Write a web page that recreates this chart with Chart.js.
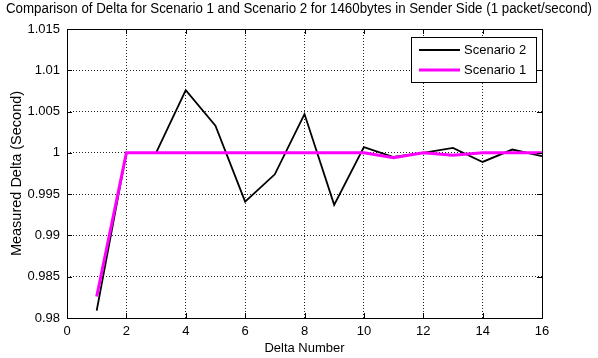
<!DOCTYPE html>
<html>
<head>
<meta charset="utf-8">
<script src="https://cdn.jsdelivr.net/npm/chart.js@4.4.1/dist/chart.umd.min.js"></script>
<style>
  html, body { margin: 0; padding: 0; background: #fff; }
  #wrap { width: 598px; height: 358px; }
</style>
</head>
<body>
<div id="wrap"><canvas id="myChart" width="598" height="358"></canvas></div>
<script>
// values
const deltaNumbers = [1, 2, 3, 4, 5, 6, 7, 8, 9, 10, 11, 12, 13, 14, 15, 16];
const scenario2 = [0.9809, 1.0, 1.0, 1.0076, 1.0033, 0.9941, 0.9974, 1.0047, 0.9937, 1.0007, 0.9995, 1.0, 1.0006, 0.9989, 1.0004, 0.9996];
const scenario1 = [0.9826, 1.0, 1.0, 1.0, 1.0, 1.0, 1.0, 1.0, 1.0, 1.0, 0.9994, 1.0, 0.9997, 1.0, 1.0, 1.0];
const xTicks = [0, 2, 4, 6, 8, 10, 12, 14, 16];
const yTicks = [0.98, 0.985, 0.99, 0.995, 1, 1.005, 1.01, 1.015];
const titleText = 'Comparison of Delta for Scenario 1 and Scenario 2 for 1460bytes in Sender Side (1 packet/second)';

const font = "'Liberation Sans', Arial, sans-serif";

function toPoints(vals) {
    return deltaNumbers.map((x, i) => ({ x: x, y: vals[i] }));
}

// title, box round the plot, inward tick marks and legend, matlab style
const framePlugin = {
    id: 'frame',
    afterDraw(chart) {
        const ctx = chart.ctx;
        const a = chart.chartArea;
        const xs = chart.scales.x, ys = chart.scales.y;
        ctx.save();

        // title spans nearly the whole figure width, so it is drawn here
        ctx.fillStyle = '#000';
        ctx.font = '14px ' + font;
        ctx.textAlign = 'center';
        ctx.textBaseline = 'middle';
        ctx.fillText(titleText, 299, 9, 586);

        ctx.strokeStyle = '#000';
        ctx.lineWidth = 1;
        ctx.setLineDash([]);
        ctx.strokeRect(Math.round(a.left) + 0.5, Math.round(a.top) + 0.5, Math.round(a.right - a.left), Math.round(a.bottom - a.top));
        ctx.beginPath();
        xTicks.forEach(v => {
            const px = Math.round(xs.getPixelForValue(v)) + 0.5;
            ctx.moveTo(px, a.bottom); ctx.lineTo(px, a.bottom - 5);
            ctx.moveTo(px, a.top); ctx.lineTo(px, a.top + 5);
        });
        yTicks.forEach(v => {
            const py = Math.round(ys.getPixelForValue(v)) + 0.5;
            ctx.moveTo(a.left, py); ctx.lineTo(a.left + 5, py);
            ctx.moveTo(a.right, py); ctx.lineTo(a.right - 5, py);
        });
        ctx.stroke();

        // legend box
        const lx = 411, ly = 37, lw = 125, lh = 45;
        ctx.fillStyle = '#fff';
        ctx.fillRect(lx, ly, lw, lh);
        ctx.strokeRect(lx + 0.5, ly + 0.5, lw, lh);
        ctx.font = '13px ' + font;
        ctx.textAlign = 'left';
        ctx.textBaseline = 'middle';
        chart.data.datasets.forEach((ds, i) => {
            const y = ly + 13 + i * 20;
            ctx.strokeStyle = ds.borderColor;
            ctx.lineWidth = ds.borderWidth;
            ctx.beginPath();
            ctx.moveTo(lx + 8, y); ctx.lineTo(lx + 49, y);
            ctx.stroke();
            ctx.fillStyle = '#000';
            ctx.fillText(ds.label, lx + 53, y);
        });
        ctx.restore();
    }
};

const chart = new Chart(document.getElementById('myChart').getContext('2d'), {
    type: 'line',
    data: {
        datasets: [{
            label: 'Scenario 2',
            data: toPoints(scenario2),
            borderColor: '#000000',
            borderWidth: 1.8,
            pointRadius: 0,
            order: 1
        }, {
            label: 'Scenario 1',
            data: toPoints(scenario1),
            borderColor: '#ff00ff',
            borderWidth: 3,
            pointRadius: 0,
            order: 0
        }]
    },
    options: {
        responsive: false,
        animation: false,
        devicePixelRatio: 1,
        layout: { padding: { left: 0, right: 56, top: 29, bottom: 0 } },
        plugins: {
            legend: { display: false },
            tooltip: { enabled: false },
            title: { display: false }
        },
        scales: {
            x: {
                type: 'linear',
                min: 0,
                max: 16,
                afterBuildTicks: s => { s.ticks = xTicks.map(v => ({ value: v })); },
                afterFit: s => { s.height = 40; },
                ticks: { color: '#000', font: { family: font, size: 13 }, padding: 6, maxRotation: 0 },
                grid: { color: '#222', lineWidth: 1, drawTicks: false },
                border: { display: false, dash: [1, 2] },
                title: { display: true, text: 'Delta Number', color: '#000', font: { family: font, size: 13 }, padding: { top: 0, bottom: 2 } }
            },
            y: {
                type: 'linear',
                min: 0.98,
                max: 1.015,
                afterBuildTicks: s => { s.ticks = yTicks.map(v => ({ value: v })); },
                afterFit: s => { s.width = 67; },
                ticks: {
                    color: '#000',
                    font: { family: font, size: 13 },
                    padding: 7,
                    callback: v => String(parseFloat(v.toFixed(3)))
                },
                grid: { color: '#222', lineWidth: 1, drawTicks: false },
                border: { display: false, dash: [1, 2] },
                title: { display: true, text: 'Measured Delta (Second)', color: '#000', font: { family: font, size: 14.5 }, padding: { top: 8, bottom: 0 } }
            }
        }
    },
    plugins: [framePlugin]
});
</script>
</body>
</html>
